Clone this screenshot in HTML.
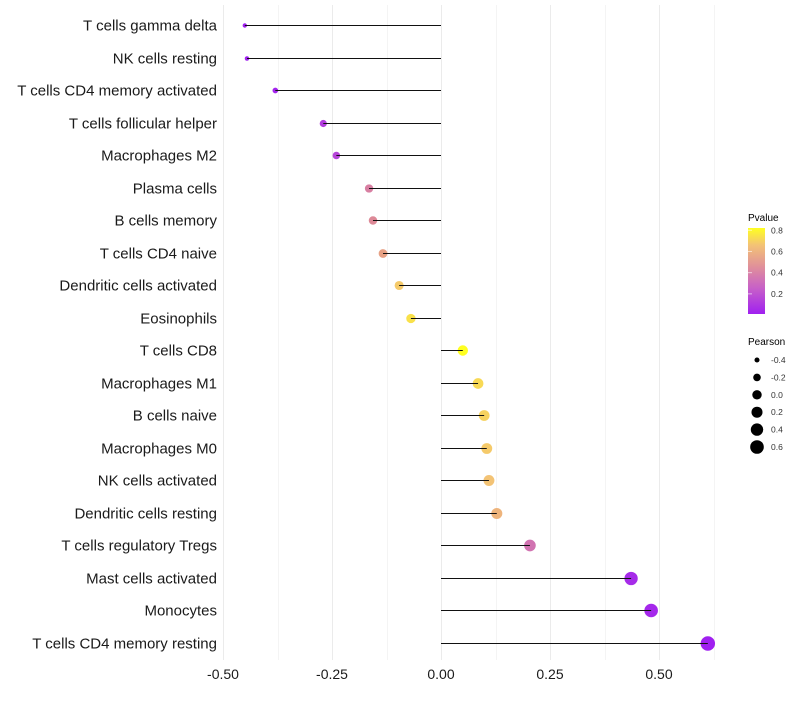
<!DOCTYPE html>
<html><head><meta charset="utf-8"><style>
body{margin:0;background:#fff;font-family:"Liberation Sans",sans-serif}
</style></head><body>
<svg id="chart" width="800" height="700" xmlns="http://www.w3.org/2000/svg" font-family="Liberation Sans, sans-serif">
<g id="grid"></g>
<g id="marks"></g>
<g id="ylabels"></g>
<g id="xlabels"></g>
<g id="legend">
<defs><linearGradient id="pg" x1="0" y1="1" x2="0" y2="0">
<stop offset="0" stop-color="#a020f0"/><stop offset="0.3" stop-color="#c760c8"/><stop offset="0.55" stop-color="#e0909a"/><stop offset="0.8" stop-color="#f3c276"/><stop offset="1" stop-color="#ffff20"/></linearGradient></defs>
<text x="748" y="221" font-size="10">Pvalue</text>
<rect x="748" y="228" width="17" height="86" fill="url(#pg)"/>
</g>
</svg>
<script>
const categories=["T cells gamma delta","NK cells resting","T cells CD4 memory activated","T cells follicular helper","Macrophages M2","Plasma cells","B cells memory","T cells CD4 naive","Dendritic cells activated","Eosinophils","T cells CD8","Macrophages M1","B cells naive","Macrophages M0","NK cells activated","Dendritic cells resting","T cells regulatory  Tregs ","Mast cells activated","Monocytes","T cells CD4 memory resting"];
const pearson=[-0.45,-0.445,-0.38,-0.27,-0.24,-0.165,-0.156,-0.133,-0.096,-0.069,0.05,0.085,0.099,0.105,0.11,0.128,0.204,0.436,0.482,0.612];
const pvalue=[0.01,0.01,0.03,0.12,0.15,0.38,0.42,0.52,0.68,0.74,0.85,0.72,0.7,0.68,0.66,0.6,0.33,0.05,0.04,0.01];
const xTicks=[-0.5,-0.25,0,0.25,0.5];
const xTickLabels=["-0.50","-0.25","0.00","0.25","0.50"];
const pTicks=[0.2,0.4,0.6,0.8];
const sizeLegend=[-0.4,-0.2,0.0,0.2,0.4,0.6];
const NS="http://www.w3.org/2000/svg";
const X=v=>441+v*436;
const Y=i=>Math.round(25+i*32.5)+0.5;
const PY=p=>314-(p-0.01)*106;
const R=v=>Math.sqrt(2.2*2.2+(v+0.45)/1.06*(7.2*7.2-2.2*2.2));
const stops=[[0,[160,32,240]],[0.3,[199,96,200]],[0.55,[226,146,140]],[0.8,[243,194,118]],[1,[255,255,32]]];
function col(p){let t=Math.max(0,Math.min(1,(p-0.01)/0.81));for(let k=1;k<stops.length;k++){if(t<=stops[k][0]){const a=stops[k-1],b=stops[k];const f=(t-a[0])/(b[0]-a[0]);const c=a[1].map((v,j)=>Math.round(v+(b[1][j]-v)*f));return `rgb(${c})`;}}return "rgb(255,255,32)";}
function mk(tag,attrs,parent){const e=document.createElementNS(NS,tag);for(const k in attrs)e.setAttribute(k,attrs[k]);document.getElementById(parent).appendChild(e);return e;}
for(let v=-0.5;v<=0.626;v+=0.125){const major=Math.abs(v*4-Math.round(v*4))<0.01;const l=mk("line",{x1:Math.round(X(v))+0.5,x2:Math.round(X(v))+0.5,y1:5,y2:660,stroke:major?"#ebebeb":"#f4f4f4","stroke-width":1},"grid");

}
categories.forEach((c,i)=>{const y=Y(i);
const t=mk("text",{x:217,y:y+5,"text-anchor":"end","font-size":"15",fill:"#1a1a1a"},"ylabels");t.textContent=c;


const d=mk("circle",{cx:X(pearson[i]),cy:y,r:R(pearson[i]),fill:col(pvalue[i])},"marks");


const l=mk("line",{x1:X(0),x2:X(pearson[i]),y1:y,y2:y,stroke:"#111","stroke-width":1},"marks");

});
xTicks.forEach((v,i)=>{const t=mk("text",{x:X(v),y:679,"text-anchor":"middle","font-size":"14",fill:"#1a1a1a"},"xlabels");t.textContent=xTickLabels[i];

});
pTicks.forEach(p=>{const t=mk("text",{x:771,y:PY(p)+3,"font-size":"8.5",fill:"#333"},"legend");t.textContent=p.toFixed(1);


const l=mk("line",{x1:748,x2:752,y1:PY(p),y2:PY(p),stroke:"#fff","stroke-opacity":0.6},"legend");

});
const st=mk("text",{x:748,y:345,"font-size":"10"},"legend");st.textContent="Pearson";


sizeLegend.forEach((v,i)=>{const y=360+i*17.4;
const c=mk("circle",{cx:757,cy:y,r:R(v)*0.95,fill:"#000"},"legend");


const t=mk("text",{x:771,y:y+3,"font-size":"8.5",fill:"#333"},"legend");t.textContent=v.toFixed(1);

});
</script>
</body></html>
